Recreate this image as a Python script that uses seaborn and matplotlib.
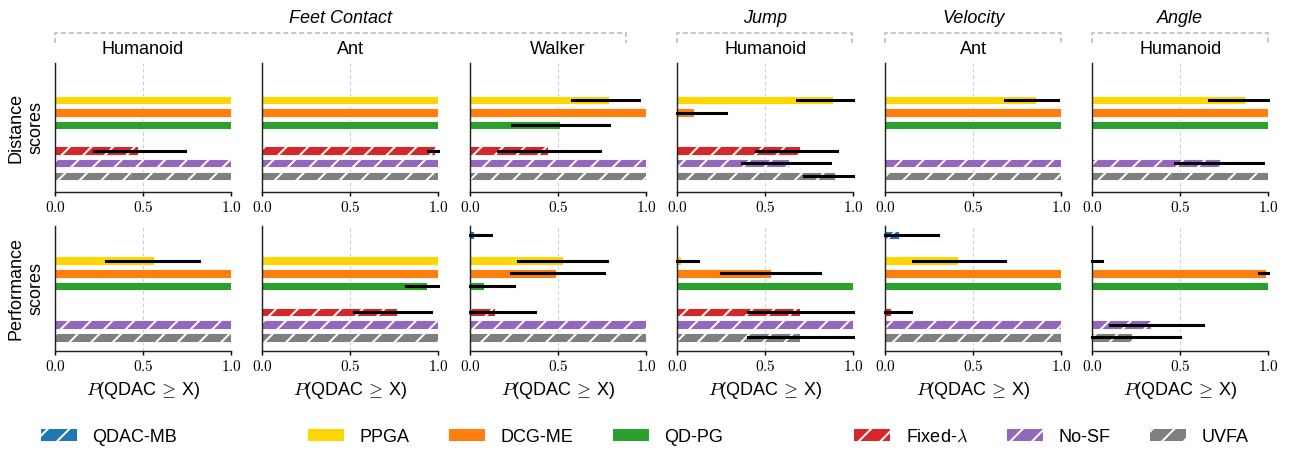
import pandas as pd
import matplotlib
matplotlib.use("Agg")
import matplotlib.pyplot as plt
from matplotlib.patches import Patch
from matplotlib.lines import Line2D
import seaborn as sns

# methods, drawn top to bottom in each panel
methods = ["QDAC-MB", "PPGA", "DCG-ME", "QD-PG", "Fixed-λ", "No-SF", "UVFA"]
legend_labels = ["QDAC-MB", "PPGA", "DCG-ME", "QD-PG", r"Fixed-$\lambda$", "No-SF", "UVFA"]
colors = ["#1f77b4", "#ffd700", "#ff7f0e", "#2ca02c", "#d62728", "#9467bd", "#7f7f7f"]
hatched = ["QDAC-MB", "Fixed-λ", "No-SF", "UVFA"]

envs = ["Humanoid", "Ant", "Walker", "Humanoid", "Ant", "Humanoid"]
task_groups = [("Feet Contact", 0, 2), ("Jump", 3, 3), ("Velocity", 4, 4), ("Angle", 5, 5)]

# distance scores: one row per column (env), values in methods order
dist_mean = [
    [0, 1.0, 1.0, 1.0, 0.47, 1.0, 1.0],
    [0, 1.0, 1.0, 1.0, 0.985, 1.0, 1.0],
    [0, 0.79, 1.0, 0.51, 0.44, 1.0, 1.0],
    [0, 0.885, 0.095, 0, 0.70, 0.635, 0.895],
    [0, 0.855, 1.0, 1.0, 0, 1.0, 1.0],
    [0, 0.865, 1.0, 1.0, 0, 0.725, 1.0],
]
dist_lo = [
    [0, 1.0, 1.0, 1.0, 0.22, 1.0, 1.0],
    [0, 1.0, 1.0, 1.0, 0.945, 1.0, 1.0],
    [0, 0.58, 1.0, 0.24, 0.16, 1.0, 1.0],
    [0, 0.68, 0, 0, 0.45, 0.37, 0.72],
    [0, 0.68, 1.0, 1.0, 0, 1.0, 1.0],
    [0, 0.66, 1.0, 1.0, 0, 0.47, 1.0],
]
dist_hi = [
    [0, 1.0, 1.0, 1.0, 0.74, 1.0, 1.0],
    [0, 1.0, 1.0, 1.0, 1.0, 1.0, 1.0],
    [0, 0.96, 1.0, 0.79, 0.74, 1.0, 1.0],
    [0, 1.0, 0.28, 0, 0.91, 0.87, 1.0],
    [0, 0.98, 1.0, 1.0, 0, 1.0, 1.0],
    [0, 1.0, 1.0, 1.0, 0, 0.97, 1.0],
]

# performance scores
perf_mean = [
    [0, 0.565, 1.0, 1.0, 0, 1.0, 1.0],
    [0, 1.0, 1.0, 0.935, 0.765, 1.0, 1.0],
    [0.02, 0.525, 0.485, 0.08, 0.14, 1.0, 1.0],
    [0, 0.02, 0.535, 1.0, 0.695, 1.0, 0.695],
    [0.08, 0.415, 1.0, 1.0, 0.03, 1.0, 1.0],
    [0, 0, 0.985, 1.0, 0, 0.335, 0.225],
]
perf_lo = [
    [0, 0.29, 1.0, 1.0, 0, 1.0, 1.0],
    [0, 1.0, 1.0, 0.82, 0.52, 1.0, 1.0],
    [0, 0.27, 0.23, 0, 0, 1.0, 1.0],
    [0, 0, 0.25, 1.0, 0.40, 1.0, 0.40],
    [0, 0.16, 1.0, 1.0, 0, 1.0, 1.0],
    [0, 0, 0.945, 1.0, 0, 0.10, 0],
]
perf_hi = [
    [0, 0.82, 1.0, 1.0, 0, 1.0, 1.0],
    [0, 1.0, 1.0, 1.0, 0.96, 1.0, 1.0],
    [0.12, 0.78, 0.76, 0.25, 0.37, 1.0, 1.0],
    [0, 0.12, 0.81, 1.0, 1.0, 1.0, 1.0],
    [0.30, 0.68, 1.0, 1.0, 0.145, 1.0, 1.0],
    [0, 0.055, 1.0, 1.0, 0, 0.63, 0.50],
]

# empty slots separate the method groups
bar_order = ["QDAC-MB", "", "PPGA", "DCG-ME", "QD-PG", " ", "Fixed-λ", "No-SF", "UVFA"]
palette = dict(zip(methods, colors))

sns.set_style("ticks")
plt.rcParams["font.family"] = ["Liberation Sans", "DejaVu Sans"]
plt.rcParams["mathtext.fontset"] = "cm"
plt.rcParams["hatch.linewidth"] = 1.1
plt.rcParams["text.color"] = "black"
plt.rcParams["axes.labelcolor"] = "black"
plt.rcParams["xtick.color"] = "black"

W, H, DPI = 1289, 452, 130
fig = plt.figure(figsize=(W / DPI + 0.003, H / DPI + 0.003), dpi=DPI)

col_left = [55, 262, 470, 677, 885, 1092]
ax_w = 176
rows = [
    ("Distance\nscores", dist_mean, dist_lo, dist_hi, 192, 129, (9.26, -0.95)),
    ("Performance\nscores", perf_mean, perf_lo, perf_hi, 351, 125, (9.06, -0.71)),
]

for r, (row_name, mean, lo, hi, bot_px, h_px, ylim) in enumerate(rows):
    for c in range(len(envs)):
        ax = fig.add_axes([col_left[c] / W, 1 - bot_px / H, ax_w / W, h_px / H])
        df = pd.DataFrame({"method": methods, "score": mean[c]})
        sns.barplot(data=df, x="score", y="method", hue="method", order=bar_order,
                    hue_order=methods, palette=palette, saturation=1, width=0.66,
                    errorbar=None, legend=False, edgecolor="white", linewidth=0.5, ax=ax)
        for p in ax.patches:
            idx = int(round(p.get_y() + p.get_height() / 2))
            if bar_order[idx] in hatched:
                p.set_hatch("//")
        ypos = [bar_order.index(m) for m in methods]
        ax.hlines(ypos, lo[c], hi[c], color="black", lw=1.7, capstyle="projecting",
                  zorder=4, clip_on=False)

        ax.set_xlim(0, 1.0)
        ax.set_ylim(*ylim)
        ax.set_yticks([])
        ax.set_ylabel("")
        ax.set_xticks([0, 0.5, 1.0])
        ax.set_xticklabels(["$0.0$", "$0.5$", "$1.0$"], fontsize=8.5)
        ax.tick_params(axis="x", length=2, width=0.8, pad=2.5)
        ax.grid(axis="x", ls=(0, (4, 3)), lw=0.5, color="#c8c8c8")
        ax.set_axisbelow(True)
        sns.despine(ax=ax)
        for s in ["left", "bottom"]:
            ax.spines[s].set_linewidth(0.8)
            ax.spines[s].set_color("#222222")

        if r == 0:
            ax.set_title(envs[c], fontsize=10, pad=5)
            ax.set_xlabel("")
        else:
            ax.set_xlabel(r"$P$(QDAC$\,\geq\,$X)", fontsize=10, labelpad=3)

    yc = 1 - (bot_px - h_px / 2) / H
    fig.text(26 / W, yc, row_name, rotation=90, ha="center", va="center",
             fontsize=10, multialignment="center")

# task brackets above the panels
bracket_px = [(55, 626), (677, 852), (885, 1061), (1092, 1268)]
y_top, y_low = 1 - 33 / H, 1 - 43 / H
for (name, c0, c1), (x0, x1) in zip(task_groups, bracket_px):
    fig.add_artist(Line2D([x0 / W, x0 / W, x1 / W, x1 / W], [y_low, y_top, y_top, y_low],
                          transform=fig.transFigure, color="#c8c8c8", lw=1.1,
                          ls=(0, (2.5, 1.5))))
    fig.text((x0 + x1) / 2 / W, 1 - 18 / H, name, ha="center", va="center",
             fontsize=10, style="italic")

# legend with blank entries as spacers
handles = []
for m, lab, col in zip(methods, legend_labels, colors):
    handles.append(Patch(facecolor=col, edgecolor="white", lw=0,
                         hatch="//" if m in hatched else None, label=lab))
blank = Patch(facecolor="none", edgecolor="none", label="")
handles = [handles[0], blank] + handles[1:4] + [blank] + handles[4:]
fig.legend(handles=handles, labels=[h.get_label() for h in handles], loc="center",
           bbox_to_anchor=(0.5, 1 - 437 / H), ncol=9, frameon=False, fontsize=10,
           handlelength=2.0, handletextpad=0.85, columnspacing=2.2)

fig.savefig("out.png", dpi=DPI)
